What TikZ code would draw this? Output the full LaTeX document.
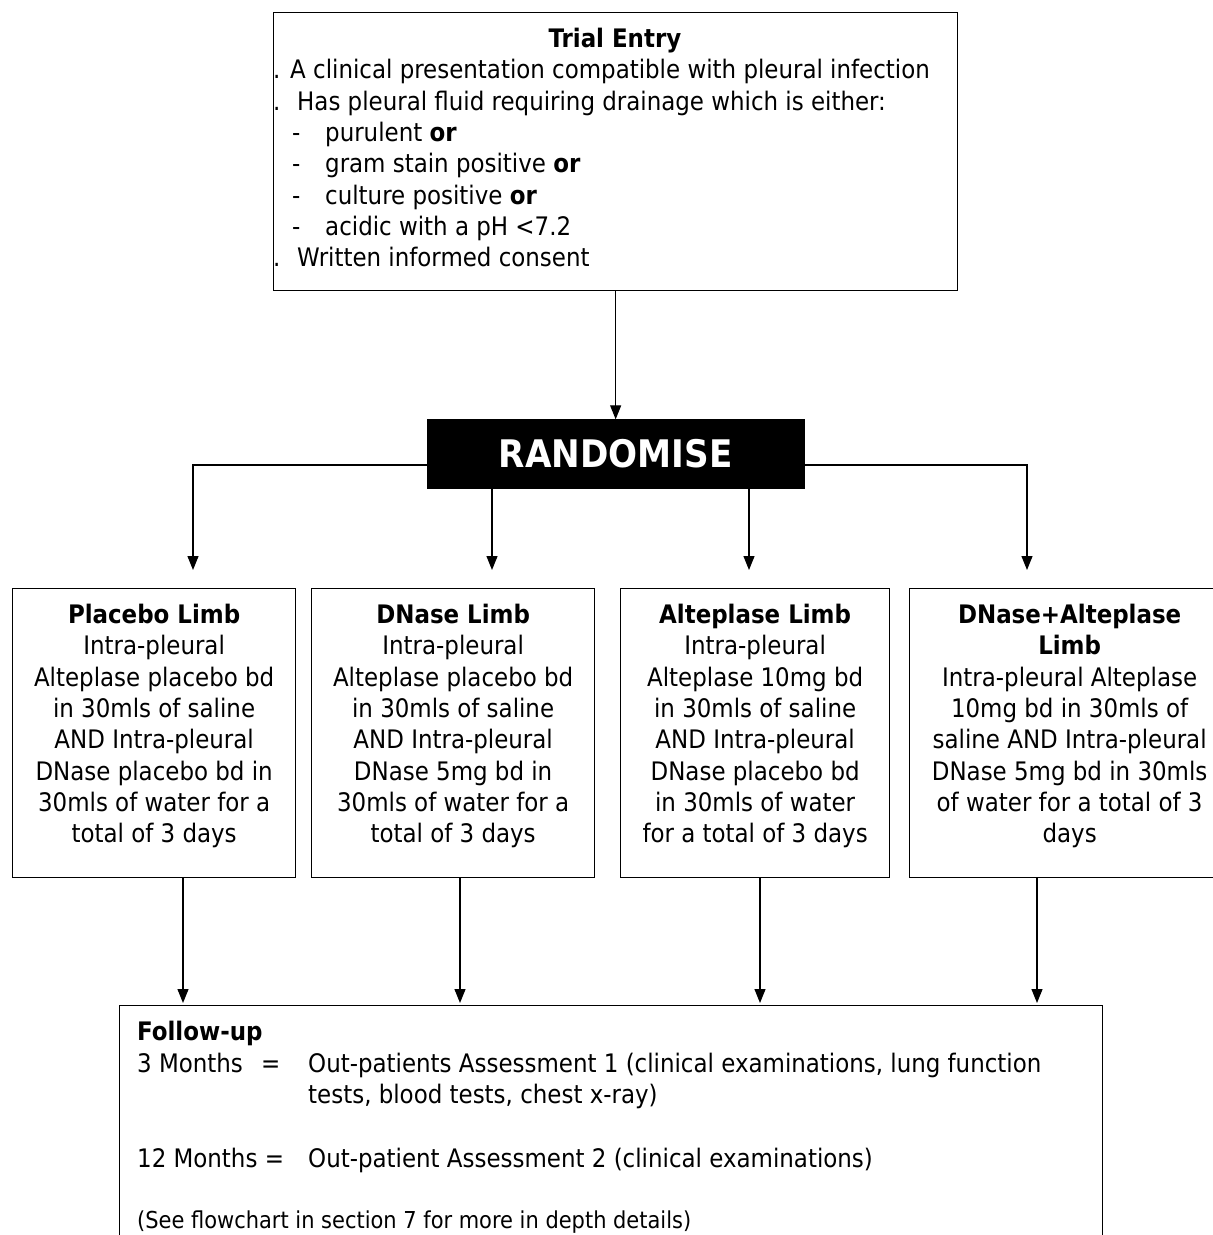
\documentclass[tikz,border=0pt]{standalone}
\usepackage{fontspec}
\setmainfont{DejaVu Sans Condensed}
\usetikzlibrary{arrows.meta,positioning}

\tikzset{
	box/.style={draw, line width=1.3pt, inner sep=0pt},
	limb/.style={box, anchor=north west, minimum height=289pt, align=center, font=\fontsize{25.5}{31.3}\selectfont},
	txt/.style={anchor=base west, inner sep=0pt, font=\fontsize{25.5}{31.3}\selectfont},
	arr/.style={-{Triangle[length=14pt,width=11pt]}, line width=1.2pt},
}

\begin{document}
\begin{tikzpicture}[x=1pt, y=-1pt]
			\useasboundingbox (0,0) rectangle (1213,1235);

			% trial entry
			\node[box, anchor=north west, minimum width=684pt, minimum height=278pt] (entry) at (273,12) {};
			\node[txt, anchor=base] (title) at (615,47) {\textbf{Trial Entry}};
			\node[txt] (d1) at (273,78) {.};
			\node[txt] (l1) at (290,78) {A clinical presentation compatible with pleural infection};
			\node[txt] (d2) at (273,110) {.};
			\node[txt] (l2) at (297,110) {Has pleural fluid requiring drainage which is either:};
			\node[txt] (m1) at (292,141) {-};
			\node[txt] (l3) at (325,141) {purulent \textbf{or}};
			\node[txt] (m2) at (292,172) {-};
			\node[txt] (l4) at (325,172) {gram stain positive \textbf{or}};
			\node[txt] (m3) at (292,204) {-};
			\node[txt] (l5) at (325,204) {culture positive \textbf{or}};
			\node[txt] (m4) at (292,235) {-};
			\node[txt] (l6) at (325,235) {acidic with a pH <7.2};
			\node[txt] (d3) at (273,266) {.};
			\node[txt] (l7) at (297,266) {Written informed consent};

			% randomise
			\node[box, fill=black, text=white, minimum width=377pt, minimum height=68pt,
				font=\fontsize{38}{42}\selectfont\bfseries] (rand) [below=128pt of entry] {RANDOMISE};

			% limbs
			\node[limb, minimum width=283pt] (placebo) at (12,588) {\textbf{Placebo Limb}\\Intra-pleural\\Alteplase placebo bd\\in 30mls of saline\\AND Intra-pleural\\DNase placebo bd in\\30mls of water for a\\total of 3 days\\[-12pt]\mbox{}};
			\node[limb, minimum width=283pt] (dnase) at (311,588) {\textbf{DNase Limb}\\Intra-pleural\\Alteplase placebo bd\\in 30mls of saline\\AND Intra-pleural\\DNase 5mg bd in\\30mls of water for a\\total of 3 days\\[-12pt]\mbox{}};
			\node[limb, minimum width=269pt] (alteplase) at (620,588) {\textbf{Alteplase Limb}\\Intra-pleural\\Alteplase 10mg bd\\in 30mls of saline\\AND Intra-pleural\\DNase placebo bd\\in 30mls of water\\for a total of 3 days\\[-12pt]\mbox{}};
			\node[limb, minimum width=320pt] (combo) at (909,588) {\textbf{DNase+Alteplase}\\\textbf{Limb}\\Intra-pleural Alteplase\\10mg bd in 30mls of\\saline AND Intra-pleural\\DNase 5mg bd in 30mls\\of water for a total of 3\\days\\[-12pt]\mbox{}};

			% follow-up
			\node[box, anchor=north west, minimum width=983pt, minimum height=240pt] (fup) at (119,1005) {};
			\node[txt] (f0) at (137,1040) {\textbf{Follow-up}};
			\node[txt] (f1) at (137,1072) {3 Months};
			\node[txt] (f1e) at (261,1072) {=};
			\node[txt] (f1a) at (308,1072) {Out-patients Assessment 1 (clinical examinations, lung function};
			\node[txt] (f1b) at (308,1103) {tests, blood tests, chest x-ray)};
			\node[txt] (f2) at (137,1167) {12 Months =};
			\node[txt] (f2a) at (308,1167) {Out-patient Assessment 2 (clinical examinations)};
			\node[txt, font=\fontsize{23.3}{28}\selectfont] (f3) at (137,1228) {(See flowchart in section 7 for more in depth details)};

			\coordinate (a1) at (193,570);
			\coordinate (a2) at (492,570);
			\coordinate (a3) at (749,570);
			\coordinate (a4) at (1027,570);
			\coordinate (b1) at (183,1003);
			\coordinate (b2) at (460,1003);
			\coordinate (b3) at (760,1003);
			\coordinate (b4) at (1037,1003);

			\draw[arr] (entry) -- (rand);
			\draw[arr] ([yshift=-11pt]rand.west) -| (a1);
			\draw[arr] ([yshift=-11pt]rand.east) -| (a4);
			\draw[arr] (rand.south -| a2) -- (a2);
			\draw[arr] (rand.south -| a3) -- (a3);

			\draw[arr] (placebo.south -| b1) -- (b1);
			\draw[arr] (dnase.south -| b2) -- (b2);
			\draw[arr] (alteplase.south -| b3) -- (b3);
			\draw[arr] (combo.south -| b4) -- (b4);
\end{tikzpicture}
\end{document}
